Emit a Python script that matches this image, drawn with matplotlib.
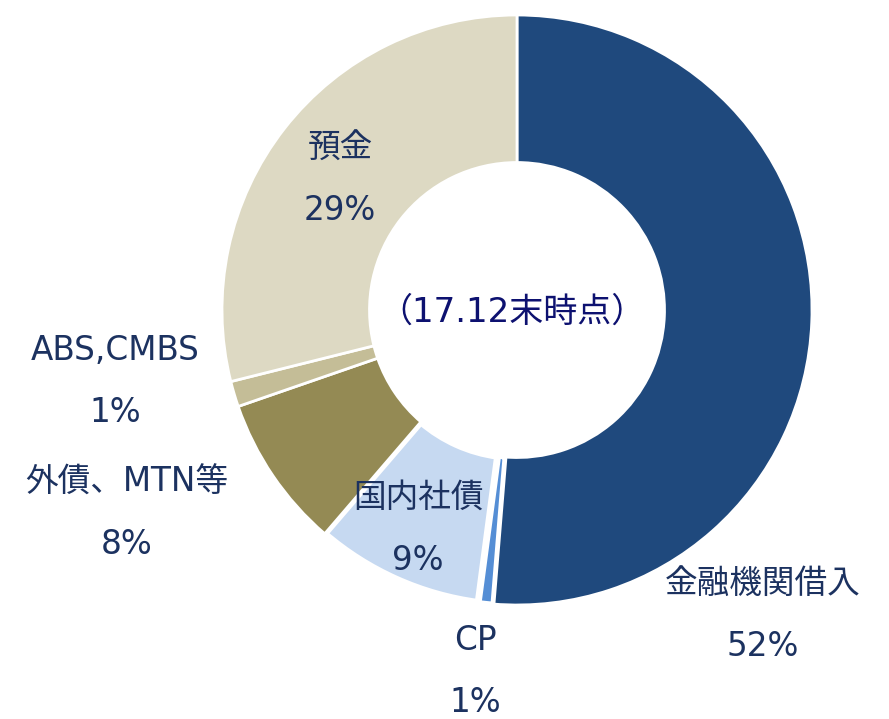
import matplotlib
matplotlib.use('Agg')
import matplotlib.pyplot as plt

plt.rcParams['font.family'] = ['DejaVu Sans', 'Noto Sans CJK JP']

# データ
labels = ['金融機関借入', 'CP', '国内社債', '外債、MTN等', 'ABS,CMBS', '預金']
values = [51.3, 0.8, 9.2, 8.4, 1.4, 28.9]
pct_text = ['52%', '1%', '9%', '8%', '1%', '29%']
colors = ['#1f497d', '#558ed5', '#c6d9f1', '#948a54', '#c4bd97', '#ddd9c3']
center_text = '（17.12末時点）'

# ラベル位置（ピクセル, 名前と%の中心）
label_pos = [(763, 583), (475, 640), (418, 497), (127, 482), (115, 350), (340, 148)]
edge_w = [2, 3.5, 5, 2, 2, 2]

W, H = 889, 719
cx, cy, R = 517, 310, 295

def px(x, y):
    return (x - cx) / R, (cy - y) / R

fig = plt.figure(figsize=(W / 100, H / 100), dpi=100)
ax = fig.add_axes([0, 0, 1, 1])

wedges, _ = ax.pie(values, colors=colors, startangle=90, counterclock=False,
                   radius=1, wedgeprops=dict(width=0.5, edgecolor='white'))
for w, lw in zip(wedges, edge_w):
    w.set_linewidth(lw)

txt_col = '#1c3260'
for name, pct, (x, y) in zip(labels, pct_text, label_pos):
    ax.text(*px(x, y), name, ha='center', va='center', fontsize=23.5, color=txt_col)
    ax.text(*px(x, y + 63), pct, ha='center', va='center', fontsize=23.5, color=txt_col)

ax.text(*px(512, 312), center_text, ha='center', va='center', fontsize=24.5,
        color='#0d1170')

ax.set_xlim(-cx / R, (W - cx) / R)
ax.set_ylim(-(H - cy) / R, cy / R)
ax.set_aspect('equal')
ax.axis('off')

fig.savefig('out.png', dpi=100)
